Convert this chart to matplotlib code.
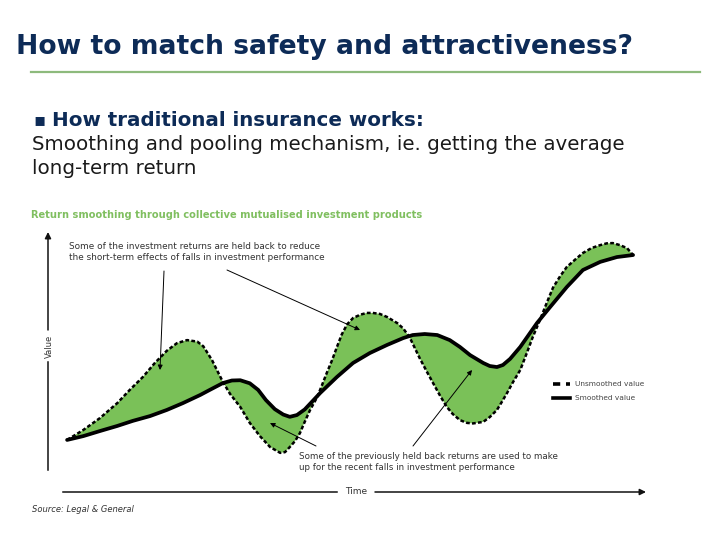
import matplotlib
matplotlib.use("Agg")
import matplotlib.pyplot as plt
import numpy as np

# ---------------- data (schematic units: time 0-100, value 0-100) ----------------
smooth_t = [3.2, 5.9, 8.7, 11.6, 14.2, 17.1, 19.9, 22.6, 25.5, 27.1, 29.3, 30.8, 32.2,
            33.8, 35.2, 36.5, 38.0, 39.4, 40.5, 41.7, 43.0, 44.2, 45.6, 48.4, 51.1,
            53.9, 56.8, 59.5, 61.1, 63.1, 65.2, 67.3, 69.0, 70.7, 72.9, 74.0, 75.2,
            76.2, 77.4, 79.1, 81.9, 84.1, 86.9, 89.6, 92.5, 95.3, 98.0]
smooth_v = [20.5, 22.0, 24.0, 26.0, 28.0, 29.9, 32.3, 35.0, 38.2, 40.2, 42.9, 43.9, 44.0,
            42.8, 40.2, 36.2, 32.6, 30.5, 29.6, 30.3, 32.5, 35.5, 39.0, 45.3, 50.8,
            54.7, 57.9, 60.6, 61.8, 62.2, 61.8, 59.8, 57.1, 53.9, 50.8, 49.6, 49.2,
            50.0, 52.4, 57.1, 66.5, 72.8, 80.7, 87.4, 90.6, 92.5, 93.3]

raw_t = [3.2, 5.9, 8.7, 11.6, 13.7, 15.9, 17.9, 19.9, 21.6, 23.3, 25.0, 26.0, 26.6,
         27.5, 28.3, 29.3, 30.5, 32.2, 33.8, 35.5, 37.2, 38.9, 39.7, 40.5, 41.4,
         42.2, 43.0, 43.9, 45.1, 45.9, 46.7, 47.6, 48.4, 49.2, 50.1, 51.1, 52.3,
         53.4, 54.4, 55.6, 56.8, 58.5, 59.5, 60.6, 62.3, 63.5, 64.5, 65.7, 66.8,
         67.8, 69.0, 70.2, 71.2, 72.9, 74.0, 75.2, 76.0, 76.9, 77.9, 79.1, 80.2,
         81.2, 82.4, 83.6, 84.6, 85.8, 86.9, 88.3, 89.6, 91.1, 92.5, 93.6, 94.6,
         95.8, 97.0, 98.0]
raw_v = [20.5, 24.4, 29.1, 35.0, 40.2, 45.3, 50.8, 55.6, 58.6, 59.8, 59.2, 57.4, 55.2,
         51.8, 48.0, 43.3, 38.6, 33.5, 27.2, 22.0, 17.7, 15.4, 15.7, 17.7, 20.1,
         23.2, 27.6, 32.3, 37.4, 42.1, 46.9, 52.0, 57.1, 62.0, 66.0, 68.5, 69.8,
         70.5, 70.5, 70.1, 68.9, 66.5, 64.4, 60.8, 52.5, 47.2, 42.9, 37.8, 33.5,
         30.7, 28.3, 27.2, 27.0, 27.6, 29.5, 32.3, 35.4, 39.0, 43.3, 48.0, 54.7,
         61.0, 67.7, 74.8, 80.5, 85.0, 88.6, 91.5, 94.1, 96.1, 97.2, 97.9, 98.0,
         97.2, 96.0, 93.3]

title = "How to match safety and attractiveness?"
bullet_head = "How traditional insurance works:"
body_lines = ["Smoothing and pooling mechanism, ie. getting the average",
              "long-term return"]
subtitle = "Return smoothing through collective mutualised investment products"
note_top = ("Some of the investment returns are held back to reduce\n"
            "the short-term effects of falls in investment performance")
note_bottom = ("Some of the previously held back returns are used to make\n"
               "up for the recent falls in investment performance")
legend_labels = ["Unsmoothed value", "Smoothed value"]
source = "Source: Legal & General"

# ---------------- figure ----------------
W, H = 720, 540
fig = plt.figure(figsize=(7.2, 5.4), dpi=100)
fig.patch.set_facecolor("white")

NAVY = "#0d2b57"
GREEN_FILL = "#7ac158"
GREEN_TXT = "#80bf60"
RULE = "#8dba7c"

# diagram axes: pixel box x 48..645, y 238..492
x0, x1, y0, y1 = 48, 645, 238, 492
ax = fig.add_axes([x0 / W, 1 - y1 / H, (x1 - x0) / W, (y1 - y0) / H])
ax.set_xlim(0, 100)
ax.set_ylim(0, 100)
ax.axis("off")

poly_t = np.r_[raw_t, smooth_t[::-1]]
poly_v = np.r_[raw_v, smooth_v[::-1]]
ax.fill(poly_t, poly_v, color=GREEN_FILL, lw=0, zorder=1)
ax.plot(raw_t, raw_v, color="black", lw=1.8, ls=(0, (1.5, 0.9)), zorder=2,
        solid_joinstyle="round", dash_joinstyle="round")
ax.plot(smooth_t, smooth_v, color="black", lw=2.7, zorder=3,
        solid_capstyle="round", solid_joinstyle="round")

# overlay axes in pixel space for texts & annotation arrows
ov = fig.add_axes([0, 0, 1, 1], zorder=5)
ov.set_xlim(0, W)
ov.set_ylim(H, 0)
ov.axis("off")
ov.patch.set_alpha(0)

ov.text(16, 47, title, fontsize=19.2, fontweight="bold", color=NAVY, va="center", ha="left")
ov.plot([31, 700], [72, 72], color=RULE, lw=1.6)

ov.text(33, 120, "\u25AA", fontsize=13, color=NAVY, va="center", ha="left", fontweight="bold")
ov.text(52, 120, bullet_head, fontsize=14.3, fontweight="bold", color=NAVY, va="center", ha="left")
ov.text(32, 145, body_lines[0], fontsize=14.3, color="#1a1a1a", va="center", ha="left")
ov.text(32, 168, body_lines[1], fontsize=14.3, color="#1a1a1a", va="center", ha="left")

ov.text(31, 215, subtitle, fontsize=7.1, fontweight="bold", color=GREEN_TXT, va="center", ha="left")

# axes lines
AXC = "#111111"
ov.plot([48, 48], [470, 362], color=AXC, lw=1.1)
ov.annotate("", xy=(48, 232), xytext=(48, 330),
            arrowprops=dict(arrowstyle="-|>", color=AXC, lw=1.1, mutation_scale=9,
                            shrinkA=0, shrinkB=0))
ov.text(49, 346, "Value", rotation=90, fontsize=6, color="#333333", va="center", ha="center")
ov.plot([63, 337], [492, 492], color=AXC, lw=1.1)
ov.annotate("", xy=(646, 492), xytext=(375, 492),
            arrowprops=dict(arrowstyle="-|>", color=AXC, lw=1.1, mutation_scale=9,
                            shrinkA=0, shrinkB=0))
ov.text(356, 492, "Time", fontsize=6.5, color="#333333", va="center", ha="center")

# annotations
ov.text(69, 252, note_top, fontsize=6.4, color="#333333", va="center", ha="left",
        linespacing=1.25)
ov.text(299, 462, note_bottom, fontsize=6.3, color="#333333", va="center", ha="left",
        linespacing=1.25)
arr = dict(arrowstyle="-|>", color="black", lw=0.7, mutation_scale=7, shrinkA=0, shrinkB=0)
ov.annotate("", xy=(160, 370), xytext=(164, 271), arrowprops=arr)
ov.annotate("", xy=(360, 330), xytext=(227, 270), arrowprops=arr)
ov.annotate("", xy=(270, 423), xytext=(316, 446), arrowprops=arr)
ov.annotate("", xy=(472, 370), xytext=(413, 446), arrowprops=arr)

# legend
ov.plot([553, 570], [384, 384], color="black", lw=2.6, ls=(0, (2.0, 1.6)))
ov.plot([553, 570], [398, 398], color="black", lw=2.6)
ov.text(575, 384, legend_labels[0], fontsize=5.3, color="#444444", va="center", ha="left")
ov.text(575, 398, legend_labels[1], fontsize=5.3, color="#444444", va="center", ha="left")

ov.text(32, 510, source, fontsize=6, style="italic", color="#333333", va="center", ha="left")

fig.savefig("out.png", dpi=100, facecolor="white")
